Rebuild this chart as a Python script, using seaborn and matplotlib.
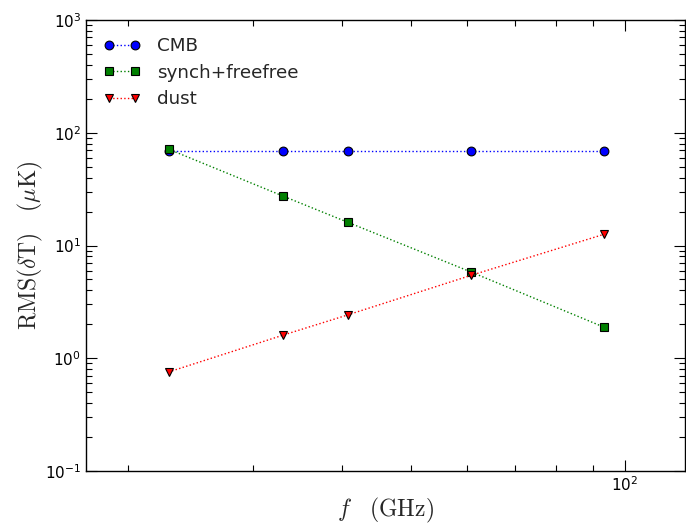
import matplotlib
matplotlib.use("Agg")
import matplotlib.pyplot as plt
from matplotlib.ticker import NullFormatter
import seaborn as sns
import numpy as np

freq = [22.8, 33.0, 40.7, 60.8, 93.5]
cmb = [69, 69, 69, 69, 69]
synch = [71.5, 27.5, 16.1, 5.8, 1.88]
dust = [0.755, 1.6, 2.42, 5.45, 12.6]

series = [
    ("CMB", cmb, "o", "#0000ff"),
    ("synch+freefree", synch, "s", "#008000"),
    ("dust", dust, "v", "#ff0000"),
]

sns.set_style("white", {"xtick.direction": "in", "ytick.direction": "in"})
plt.rcParams["mathtext.fontset"] = "cm"
plt.rcParams["font.family"] = ["DejaVu Sans"]

fig = plt.figure(figsize=(6.86, 5.25), dpi=100)
ax = fig.add_axes([86 / 686, 1 - 471 / 525, 599 / 686, 451 / 525])

for name, vals, mk, col in series:
    sns.lineplot(x=freq, y=vals, ax=ax, color=col, marker=mk, linestyle=":",
                 linewidth=1.0, markersize=6.3, markeredgecolor="black",
                 markeredgewidth=0.8, label=name)

ax.set_xscale("log")
ax.set_yscale("log")
ax.set_xlim(17.45, 121.4)
ax.set_ylim(0.1, 1000)
ax.xaxis.set_minor_formatter(NullFormatter())

for s in ax.spines.values():
    s.set_color("black")
    s.set_linewidth(1.0)

ax.tick_params(which="both", direction="in", top=True, right=True,
               bottom=True, left=True, colors="black", labelsize=11)
ax.tick_params(which="major", length=8, width=0.8)
ax.tick_params(which="minor", length=4, width=0.8)
ax.tick_params(axis="x", which="major", pad=3)

ax.set_xlabel(r"$f\ \ \ (\mathrm{GHz})$", fontsize=17, labelpad=1.5)
ax.set_ylabel(r"$\mathrm{RMS}(\delta\mathrm{T})\ \ \ (\mu\mathrm{K})$", fontsize=17, labelpad=0)

leg = ax.legend(loc="upper left", frameon=False, numpoints=2, fontsize=13.2,
                handlelength=2.0, handletextpad=0.9, labelspacing=0.45,
                borderaxespad=0.55, borderpad=0.4)

fig.savefig("out.png", dpi=100)
